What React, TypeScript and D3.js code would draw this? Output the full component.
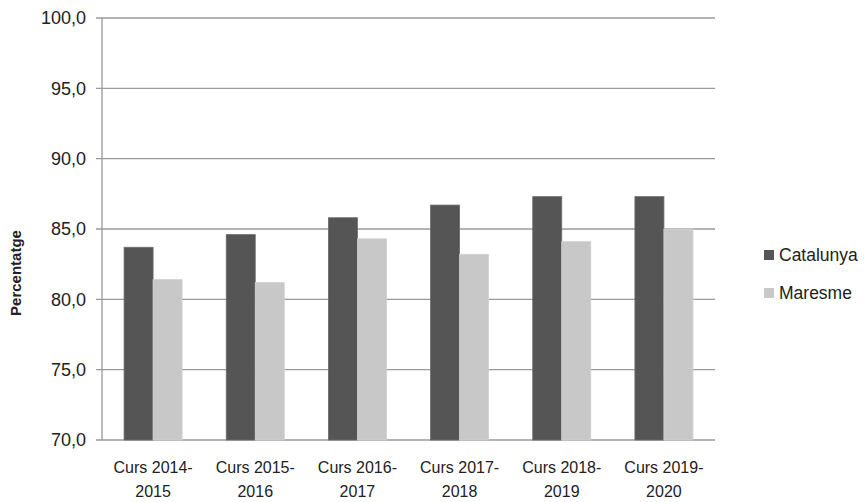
import React from "react";
import * as d3 from "d3";

const categories = [
  ["Curs 2014-", "2015"],
  ["Curs 2015-", "2016"],
  ["Curs 2016-", "2017"],
  ["Curs 2017-", "2018"],
  ["Curs 2018-", "2019"],
  ["Curs 2019-", "2020"],
];
const seriesNames = ["Catalunya", "Maresme"];
const catalunya = [83.7, 84.6, 85.8, 86.7, 87.3, 87.3];
const maresme = [81.4, 81.2, 84.3, 83.2, 84.1, 85.0];
const yTicks = [70, 75, 80, 85, 90, 95, 100];
const colors = ["#555555", "#c8c8c8"];

export default function App() {
  const W = 864, H = 502;
  const left = 102, right = 715, top = 18, bottom = 440;
  const font = "'Liberation Sans', Arial, sans-serif";
  const x = d3.scaleBand<number>().domain(d3.range(categories.length)).range([left, right]);
  const y = d3.scaleLinear().domain([70, 100]).range([bottom, top]);
  const inner = d3.scaleBand<number>().domain([0, 1]).range([0, 58]);
  const fmt = (v: number) => v.toFixed(1).replace(".", ",");
  const series = [catalunya, maresme];
  return (
    <svg width={W} height={H} style={{ position: "absolute", left: 0, top: 0, background: "#fff" }}>
      {yTicks.map((t) => (
        <g key={t}>
          <line x1={96} x2={right} y1={y(t)} y2={y(t)} stroke="#9a9a9a" strokeWidth={1.3} />
          <text x={86} y={y(t)} dy="0.36em" textAnchor="end" fontFamily={font} fontSize={18} fill="#222">
            {fmt(t)}
          </text>
        </g>
      ))}
      <line x1={left} x2={left} y1={top} y2={bottom} stroke="#9a9a9a" strokeWidth={1.3} />
      {series.map((vals, s) =>
        vals.map((v, i) => {
          const bx = (x(i) as number) + (x.bandwidth() - 58) / 2 + (inner(s) as number);
          return (
            <rect
              key={s + "-" + i}
              x={bx}
              y={y(v)}
              width={inner.bandwidth()}
              height={bottom - y(v)}
              fill={colors[s]}
              stroke={s === 0 ? "#6a6a6a" : "#d0d0d0"}
              strokeWidth={0.8}
            />
          );
        })
      )}
      {categories.map((c, i) => (
        <text
          key={i}
          x={(x(i) as number) + x.bandwidth() / 2}
          y={467}
          textAnchor="middle"
          fontFamily={font}
          fontSize={16}
          fill="#222"
        >
          <tspan x={(x(i) as number) + x.bandwidth() / 2} dy="0.36em">{c[0]}</tspan>
          <tspan x={(x(i) as number) + x.bandwidth() / 2} dy={24}>{c[1]}</tspan>
        </text>
      ))}
      <text
        transform={`translate(21,${273}) rotate(-90)`}
        textAnchor="middle"
        fontFamily={font}
        fontSize={15}
        fontWeight="bold"
        fill="#222"
      >
        Percentatge
      </text>
      {seriesNames.map((n, i) => (
        <g key={n}>
          <rect x={764} y={250 + i * 38} width={10} height={10} fill={colors[i]} />
          <text x={779} y={255 + i * 38} dy="0.36em" fontFamily={font} fontSize={17.5} fill="#222">
            {n}
          </text>
        </g>
      ))}
    </svg>
  );
}
